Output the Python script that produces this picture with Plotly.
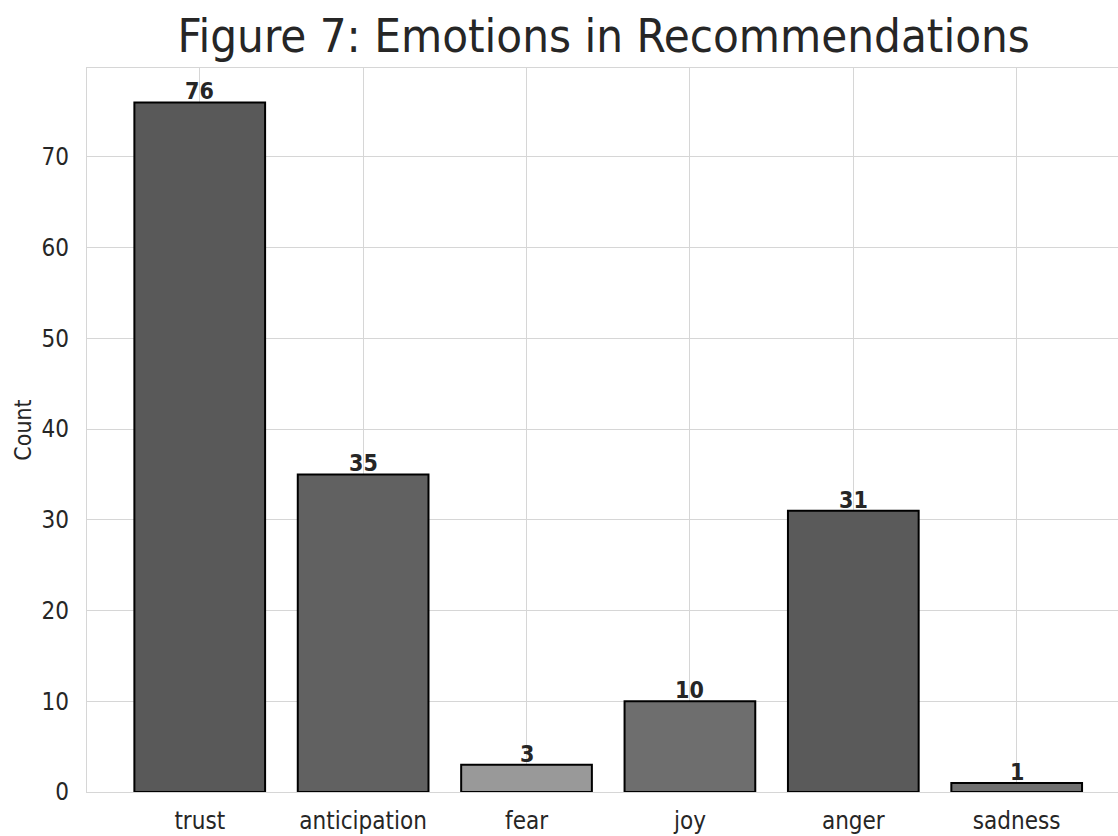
import plotly.graph_objects as go

emotions = ["trust", "anticipation", "fear", "joy", "anger", "sadness"]
counts = [76, 35, 3, 10, 31, 1]
bar_colors = ["#595959", "#616161", "#999999", "#6e6e6e", "#5a5a5a", "#707070"]

FONT = "DejaVu Sans Condensed, DejaVu Sans"
INK = "#262626"
GRID = "#d6d6d6"

fig = go.Figure(
    go.Bar(
        x=emotions,
        y=counts,
        width=0.8,
        marker=dict(color=bar_colors, line=dict(color="#000000", width=2)),
        showlegend=False,
    )
)

# value labels on top of each bar
for name, val in zip(emotions, counts):
    fig.add_annotation(
        x=name, y=val, text=f"<b>{val}</b>", showarrow=False,
        yanchor="bottom", yshift=-4,
        font=dict(family=FONT, size=23, color=INK),
    )

fig.update_layout(
    width=1118, height=836,
    margin=dict(l=87, r=0, t=68, b=44),
    paper_bgcolor="white", plot_bgcolor="white",
    font=dict(family=FONT, color=INK),
    title=dict(
        text="Figure 7: Emotions in Recommendations",
        x=0.54, xanchor="center", y=0.957, yanchor="middle",
        font=dict(family=FONT, size=47, color=INK),
    ),
)

fig.update_xaxes(
    range=[-0.69, 5.62], automargin=False,
    showgrid=True, gridcolor=GRID, gridwidth=1.3,
    showline=True, linecolor=GRID, linewidth=1.3, mirror=True,
    ticks="", tickfont=dict(size=24, color=INK),
    ticklabelstandoff=7,
)
fig.update_yaxes(
    range=[0, 79.8], dtick=10, automargin=False,
    showgrid=True, gridcolor=GRID, gridwidth=1.3,
    showline=True, linecolor=GRID, linewidth=1.3, mirror=True,
    zeroline=False,
    ticks="", tickfont=dict(size=24, color=INK),
    ticklabelstandoff=12,
    title=dict(text="Count", font=dict(size=23, color=INK), standoff=3),
)

fig.write_html("out.html")
